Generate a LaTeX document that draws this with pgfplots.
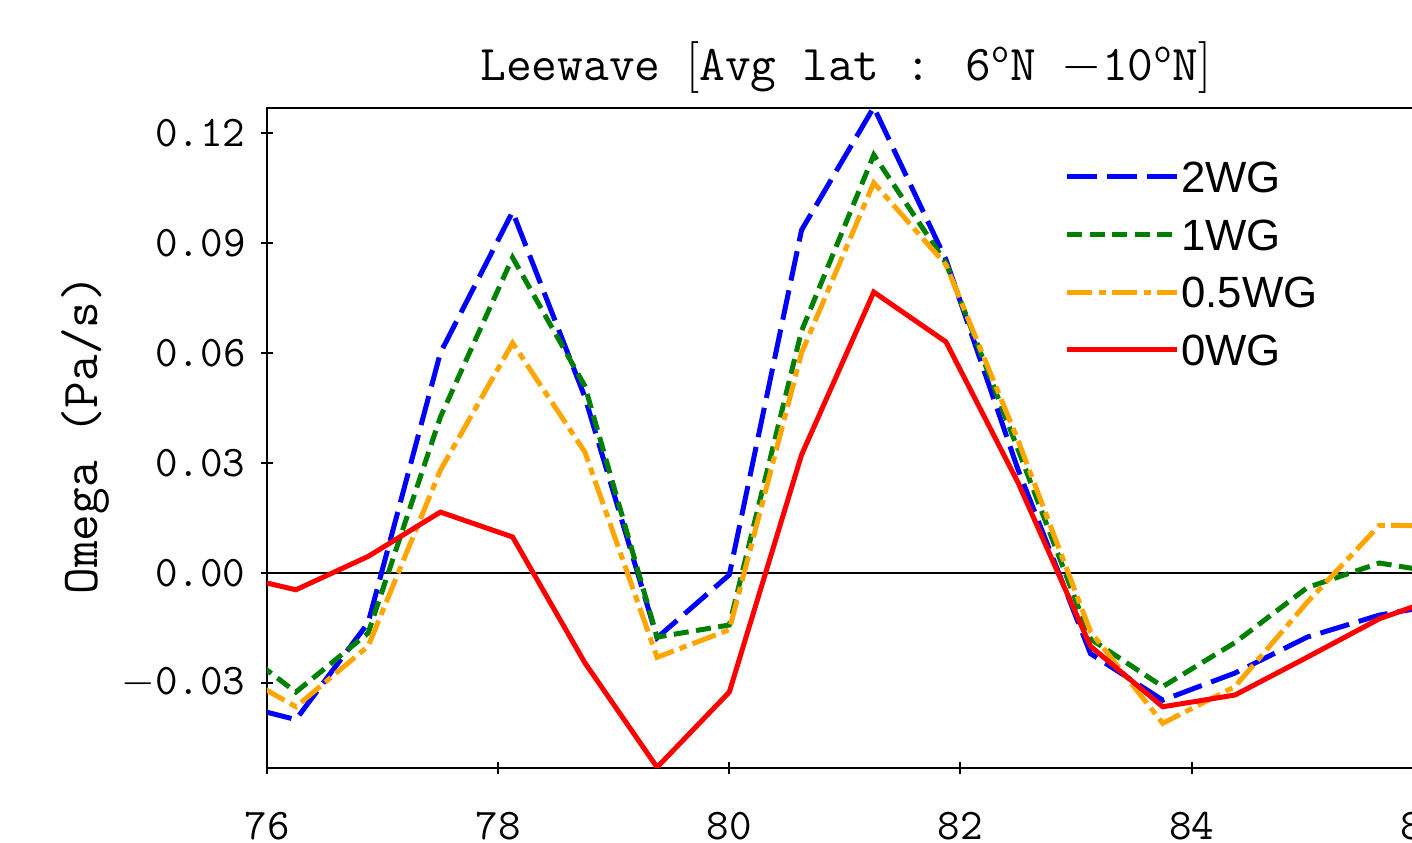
\documentclass[border=0pt]{standalone}
\usepackage{fontspec}
\usepackage{pgfplots}
\usepackage{pgfplotstable}
\pgfplotsset{compat=1.18}
\usetikzlibrary{calc}
\newfontfamily\legfont{Liberation Sans}
\definecolor{cblue}{RGB}{0,0,255}
\definecolor{cgreen}{RGB}{0,128,0}
\definecolor{corange}{RGB}{255,165,0}
\definecolor{cred}{RGB}{255,0,0}

% omega (Pa/s) against longitude, lat average 6N-10N
\pgfplotstableread{
x       w2       w1       w05      w0
75.625  -0.0350  -0.0175  -0.0253   0.0000
76.250  -0.0400  -0.0325  -0.0365  -0.0046
76.875  -0.0136  -0.0164  -0.0200   0.0045
77.500   0.0600   0.0425   0.0280   0.0166
78.125   0.0985   0.0860   0.0627   0.0098
78.750   0.0480   0.0510   0.0330  -0.0245
79.375  -0.0177  -0.0175  -0.0230  -0.0530
80.000  -0.0005  -0.0142  -0.0155  -0.0325
80.625   0.0935   0.0660   0.0600   0.0322
81.250   0.1270   0.1140   0.1064   0.0766
81.875   0.0854   0.0845   0.0840   0.0630
82.500   0.0280   0.0335   0.0360   0.0245
83.125  -0.0220  -0.0180  -0.0160  -0.0200
83.750  -0.0347  -0.0310  -0.0410  -0.0365
84.375  -0.0273  -0.0190  -0.0310  -0.0333
85.000  -0.0175  -0.0040  -0.0080  -0.0230
85.625  -0.0115   0.0027   0.0130  -0.0125
86.250  -0.0080  -0.0005   0.0128  -0.0055
}\omegadata

\begin{document}
\begin{tikzpicture}
\begin{axis}[
  name=ax,
  scale only axis,
  width=480.8pt, height=264pt,
  xmin=76, xmax=86.4,
  ymin=-0.0532, ymax=0.1268,
  axis line style={line width=0.8pt},
  xtick={76,78,80,82,84,86},
  xticklabels={76,78,80,82,84,86},
  ytick={-0.03,0,0.03,0.06,0.09,0.12},
  yticklabels={$-$0.03,0.00,0.03,0.06,0.09,0.12},
  xtick pos=bottom, ytick pos=left,
  tick align=center, major tick length=4.8pt,
  tick style={line width=0.8pt, black},
  xticklabel style={font=\ttfamily\fontsize{17.5}{21}\selectfont, anchor=base, inner sep=0pt, yshift=-26pt},
  yticklabel style={font=\ttfamily\fontsize{17.5}{21}\selectfont, anchor=east, inner sep=0pt, xshift=-6pt},
  ylabel={Omega (Pa/s)},
  ylabel style={font=\ttfamily\fontsize{20.7}{24}\selectfont, at={(axis description cs:-0.1514,0.505)}, anchor=center},
  title={Leewave $\big[$Avg lat : 6\textsuperscript{o}N $-$10\textsuperscript{o}N$\big]$},
  title style={font=\ttfamily\fontsize{20}{24}\selectfont, at={(axis description cs:0.4817,1)}, anchor=base, yshift=4.8pt},
  legend image code/.code={\draw[#1] (0pt,0pt) -- (44pt,0pt);},
  legend style={draw=none, fill=none, at={(axis cs:82.90,0.1128)}, anchor=north west,
    inner sep=0pt, row sep=9.6pt, font=\legfont\fontsize{17.5}{21}\selectfont,
    nodes={inner sep=0.5pt, text height=12.5pt, text depth=0pt}},
  legend cell align=left,
]
\addplot[black, line width=0.7pt, forget plot] coordinates {(75,0) (87,0)};
\addplot[cblue, line width=2pt, dash pattern=on 12pt off 4pt] table[x=x, y=w2] {\omegadata};
\addlegendentry{2WG}
\addplot[cgreen, line width=2pt, dash pattern=on 6pt off 3pt] table[x=x, y=w1] {\omegadata};
\addlegendentry{1WG}
\addplot[corange, line width=2pt, dash pattern=on 10pt off 2.5pt on 3pt off 2.5pt] table[x=x, y=w05] {\omegadata};
\addlegendentry{0.5WG}
\addplot[cred, line width=2pt] table[x=x, y=w0] {\omegadata};
\addlegendentry{0WG}
\end{axis}
\pgfresetboundingbox
\path[use as bounding box] ($(ax.south west)+(-106.8pt,-30pt)$) rectangle ($(ax.north west)+(458pt,43.2pt)$);
\end{tikzpicture}
\end{document}
